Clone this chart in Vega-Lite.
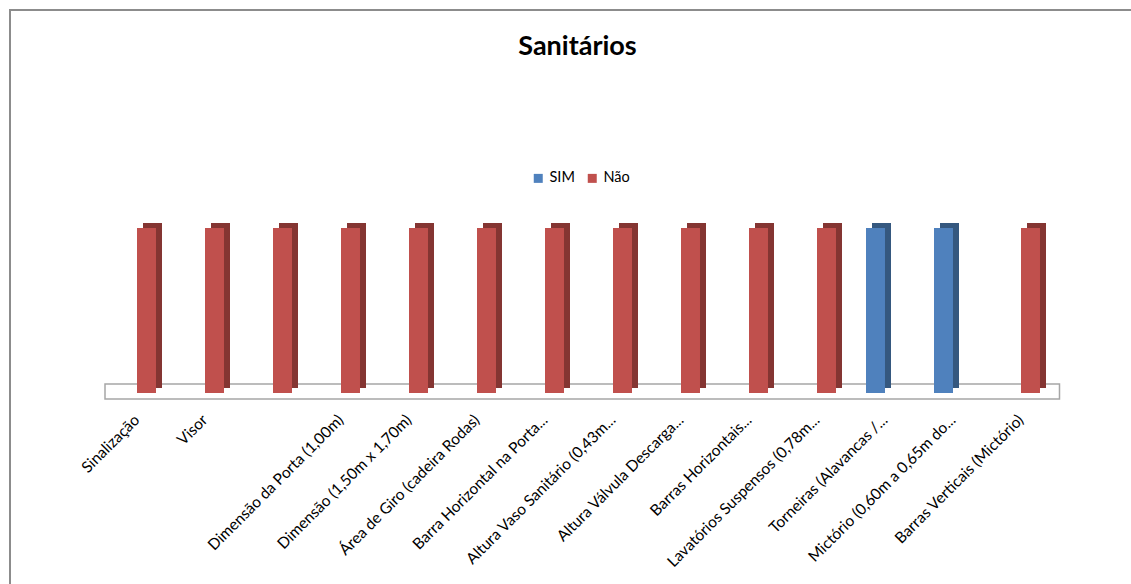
{
  "$schema": "https://vega.github.io/schema/vega-lite/v6.json",
  "autosize": {"type": "fit", "contains": "padding"},
  "width": 1131,
  "height": 584,
  "padding": {"left": 10, "top": 10, "right": -6, "bottom": -8},
  "background": "white",
  "config": {
    "font": "Lato",
    "view": {"stroke": "#8c8c8c", "strokeWidth": 2}
  },
  "title": {
    "text": "Sanitários",
    "font": "Lato",
    "fontSize": 27,
    "fontWeight": "bold",
    "color": "#000000",
    "anchor": "middle",
    "frame": "group",
    "offset": -51,
    "dx": 4
  },
  "data": {
    "values": [
      {"item": "Sinalização", "resposta": "Não", "valor": 1},
      {"item": "Visor", "resposta": "Não", "valor": 1},
      {"item": " ", "resposta": "Não", "valor": 1},
      {"item": "Dimensão da Porta (1,00m)", "resposta": "Não", "valor": 1},
      {"item": "Dimensão (1,50m x 1,70m)", "resposta": "Não", "valor": 1},
      {"item": "Área de Giro (cadeira Rodas)", "resposta": "Não", "valor": 1},
      {"item": "Barra Horizontal na Porta...", "resposta": "Não", "valor": 1},
      {"item": "Altura Vaso Sanitário (0,43m...", "resposta": "Não", "valor": 1},
      {"item": "Altura Válvula Descarga...", "resposta": "Não", "valor": 1},
      {"item": "Barras Horizontais...", "resposta": "Não", "valor": 1},
      {"item": "Lavatórios Suspensos (0,78m...", "resposta": "Não", "valor": 1},
      {"item": "Torneiras (Alavancas /...", "resposta": "SIM", "valor": 1},
      {"item": "Mictório (0,60m a 0,65m do...", "resposta": "SIM", "valor": 1},
      {"item": "Barras Verticais (Mictório)", "resposta": "Não", "valor": 1}
    ]
  },
  "encoding": {
    "x": {
      "field": "item",
      "type": "nominal",
      "scale": {
        "domain": [
          "Sinalização",
          "Visor",
          " ",
          "Dimensão da Porta (1,00m)",
          "Dimensão (1,50m x 1,70m)",
          "Área de Giro (cadeira Rodas)",
          "Barra Horizontal na Porta...",
          "Altura Vaso Sanitário (0,43m...",
          "Altura Válvula Descarga...",
          "Barras Horizontais...",
          "Lavatórios Suspensos (0,78m...",
          "Torneiras (Alavancas /...",
          "Mictório (0,60m a 0,65m do...",
          "Barras Verticais (Mictório)"
        ],
        "range": [93, 1045],
        "paddingInner": 0.7206,
        "paddingOuter": 0.3603
      },
      "axis": {
        "title": null,
        "labelAngle": -45,
        "labelAlign": "right",
        "labelBaseline": "middle",
        "labelFont": "Lato",
        "labelFontSize": 15.5,
        "labelColor": "#000000",
        "labelLimit": 0,
        "labelOverlap": false,
        "labelPadding": 2,
        "ticks": false,
        "domain": false,
        "grid": false,
        "offset": -177
      }
    },
    "y": {
      "field": "valor",
      "type": "quantitative",
      "scale": {"domain": [-1.2061, 2.3212], "nice": false, "zero": false},
      "axis": null
    }
  },
  "layer": [
    {
      "transform": [{"filter": "datum.item === 'Sinalização'"}],
      "mark": {"type": "rect", "fill": "#ffffff", "stroke": "#a6a6a6", "strokeWidth": 1.5, "xOffset": -22.5, "x2Offset": 29},
      "encoding": {
        "x": {"datum": "Sinalização", "bandPosition": 0},
        "x2": {"datum": "Barras Verticais (Mictório)", "bandPosition": 1},
        "y": {"datum": 0.0545},
        "y2": {"datum": -0.0364}
      }
    },
    {
      "transform": [{"filter": "datum.resposta === 'Não'"}],
      "mark": {"type": "bar", "color": "#843532", "xOffset": 15.5, "yOffset": -5, "y2Offset": -5}
    },
    {
      "transform": [{"filter": "datum.resposta === 'SIM'"}],
      "mark": {"type": "bar", "color": "#35587f", "xOffset": -3.5, "yOffset": -5, "y2Offset": -5}
    },
    {
      "transform": [{"filter": "datum.resposta === 'Não'"}],
      "mark": {"type": "bar", "xOffset": 9.5},
      "encoding": {
        "color": {
          "field": "resposta",
          "type": "nominal",
          "scale": {"domain": ["SIM", "Não"], "range": ["#4f81bd", "#c0504d"]},
          "legend": {
            "orient": "none",
            "legendX": 521,
            "legendY": 161,
            "direction": "horizontal",
            "title": null,
            "symbolType": "square",
            "symbolSize": 81,
            "symbolStrokeWidth": 0,
            "labelFont": "Lato",
            "labelFontSize": 14.5,
            "labelColor": "#000000",
            "labelOffset": 4,
            "columnPadding": 10
          }
        }
      }
    },
    {
      "transform": [{"filter": "datum.resposta === 'SIM'"}],
      "mark": {"type": "bar", "xOffset": -9.5},
      "encoding": {
        "color": {
          "field": "resposta",
          "type": "nominal",
          "scale": {"domain": ["SIM", "Não"], "range": ["#4f81bd", "#c0504d"]}
        }
      }
    }
  ]
}
